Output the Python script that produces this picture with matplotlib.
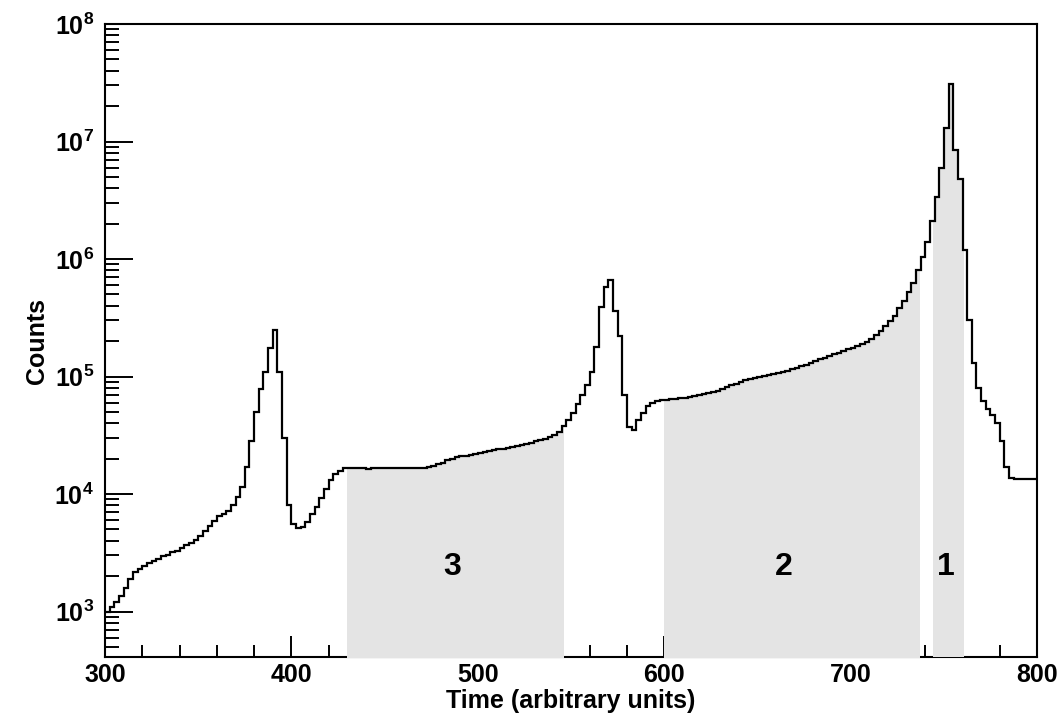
import numpy as np
import matplotlib.pyplot as plt
from matplotlib.ticker import FixedLocator, LogLocator, FuncFormatter

plt.rcParams['font.family'] = ['Liberation Sans', 'DejaVu Sans']
plt.rcParams['font.weight'] = 'bold'
plt.rcParams['mathtext.fontset'] = 'custom'
plt.rcParams['mathtext.rm'] = 'Liberation Sans:bold'
plt.rcParams['mathtext.bf'] = 'Liberation Sans:bold'

# histogram, 2.5 unit bins from 300 to 800
t_start = 300
bin_width = 2.5
counts = [
    1.0e3, 1.1e3, 1.2e3, 1.35e3, 1.6e3, 1.9e3, 2.15e3, 2.3e3, 2.45e3, 2.6e3,
    2.7e3, 2.8e3, 2.95e3, 3.05e3, 3.2e3, 3.3e3, 3.45e3, 3.65e3, 3.85e3, 4.1e3,
    4.4e3, 4.8e3, 5.3e3, 5.9e3, 6.5e3, 6.8e3, 7.1e3, 8.0e3, 9.5e3, 1.15e4,
    1.7e4, 2.8e4, 5.0e4, 7.8e4, 1.1e5, 1.75e5, 2.5e5, 1.1e5, 3.0e4, 8.0e3,
    5.6e3, 5.1e3, 5.2e3, 5.8e3, 6.8e3, 7.8e3, 9.2e3, 1.1e4, 1.32e4, 1.48e4,
    1.58e4, 1.65e4, 1.65e4, 1.65e4, 1.65e4, 1.65e4, 1.64e4, 1.65e4, 1.65e4, 1.65e4,
    1.65e4, 1.65e4, 1.66e4, 1.65e4, 1.65e4, 1.67e4, 1.66e4, 1.67e4, 1.68e4, 1.69e4,
    1.72e4, 1.8e4, 1.85e4, 1.95e4, 2.0e4, 2.05e4, 2.1e4, 2.12e4, 2.15e4, 2.2e4,
    2.25e4, 2.3e4, 2.32e4, 2.35e4, 2.4e4, 2.42e4, 2.48e4, 2.52e4, 2.55e4, 2.6e4,
    2.65e4, 2.72e4, 2.8e4, 2.88e4, 2.95e4, 3.05e4, 3.2e4, 3.4e4, 3.8e4, 4.3e4,
    4.9e4, 5.8e4, 7.0e4, 8.5e4, 1.1e5, 1.8e5, 3.9e5, 5.8e5, 6.6e5, 3.6e5,
    2.2e5, 7.0e4, 3.7e4, 3.5e4, 4.3e4, 4.9e4, 5.6e4, 6.0e4, 6.2e4, 6.3e4,
    6.35e4, 6.4e4, 6.5e4, 6.55e4, 6.6e4, 6.7e4, 6.8e4, 6.9e4, 7.05e4, 7.2e4,
    7.4e4, 7.6e4, 7.9e4, 8.15e4, 8.4e4, 8.7e4, 9.0e4, 9.3e4, 9.6e4, 9.8e4,
    1.0e5, 1.02e5, 1.04e5, 1.06e5, 1.08e5, 1.1e5, 1.12e5, 1.15e5, 1.18e5, 1.22e5,
    1.26e5, 1.31e5, 1.36e5, 1.41e5, 1.45e5, 1.5e5, 1.55e5, 1.6e5, 1.65e5, 1.7e5,
    1.76e5, 1.82e5, 1.9e5, 1.98e5, 2.08e5, 2.25e5, 2.45e5, 2.7e5, 2.95e5, 3.3e5,
    3.8e5, 4.4e5, 5.2e5, 6.3e5, 8.0e5, 1.05e6, 1.4e6, 2.1e6, 3.4e6, 6.0e6,
    1.3e7, 3.1e7, 8.5e6, 4.8e6, 1.2e6, 3.0e5, 1.3e5, 8.0e4, 6.2e4, 5.3e4,
    4.7e4, 4.0e4, 2.8e4, 1.7e4, 1.38e4, 1.35e4, 1.33e4, 1.35e4, 1.34e4, 1.35e4,
]

# shaded time windows and their labels
regions = [(430, 546), (600, 737), (744, 761)]
region_labels = ['3', '2', '1']
label_x = [486, 664, 751]
label_y = 2.4e3

counts = np.array(counts)
edges = t_start + bin_width * np.arange(len(counts) + 1)

plt.close("all")
fig = plt.figure(figsize=(10.64, 7.28), dpi=100)
ax = fig.add_axes([0.0987, 0.0975, 0.876, 0.8695])

for (lo, hi), lab, lx in zip(regions, region_labels, label_x):
    xs = np.concatenate([[lo], edges[(edges > lo) & (edges < hi)], [hi]])
    idx = np.clip(np.searchsorted(edges, xs, side='right') - 1, 0, len(counts) - 1)
    ax.fill_between(xs, 1, counts[idx], step='post', color='#e4e4e4',
                    linewidth=0, zorder=1)
    ax.text(lx, label_y, lab, ha='center', va='center', fontsize=23,
            fontweight='bold', zorder=3)

ax.stairs(counts, edges, baseline=None, color='k', linewidth=1.6, zorder=2)

ax.set_yscale('log')
ax.set_xlim(300, 800)
ax.set_ylim(4.1e2, 1e8)

ax.xaxis.set_major_locator(FixedLocator([300, 400, 500, 600, 700, 800]))
ax.xaxis.set_minor_locator(FixedLocator(np.arange(300, 801, 20)))
ax.yaxis.set_major_locator(LogLocator(base=10, numticks=10))
ax.yaxis.set_minor_locator(LogLocator(base=10, subs=np.arange(2, 10), numticks=20))
ax.yaxis.set_major_formatter(FuncFormatter(lambda v, p: r'$\mathbf{10^{%d}}$' % round(np.log10(v))))

ax.tick_params(which='both', direction='in', top=False, right=False, width=1.4,
               labelsize=18)
ax.tick_params(axis='y', which='major', length=20, pad=8)
ax.tick_params(axis='y', which='minor', length=10)
ax.tick_params(axis='x', which='major', length=15, pad=4)
ax.tick_params(axis='x', which='minor', length=8.5)
ax.set_axisbelow(True)
for s in ax.spines.values():
    s.set_linewidth(1.5)
ax.spines['bottom'].set_zorder(0.5)

ax.set_xlabel('Time (arbitrary units)', fontsize=18, fontweight='bold', labelpad=2)
ax.set_ylabel('Counts', fontsize=18, fontweight='bold', labelpad=4)

fig.savefig('out.png', dpi=100)
